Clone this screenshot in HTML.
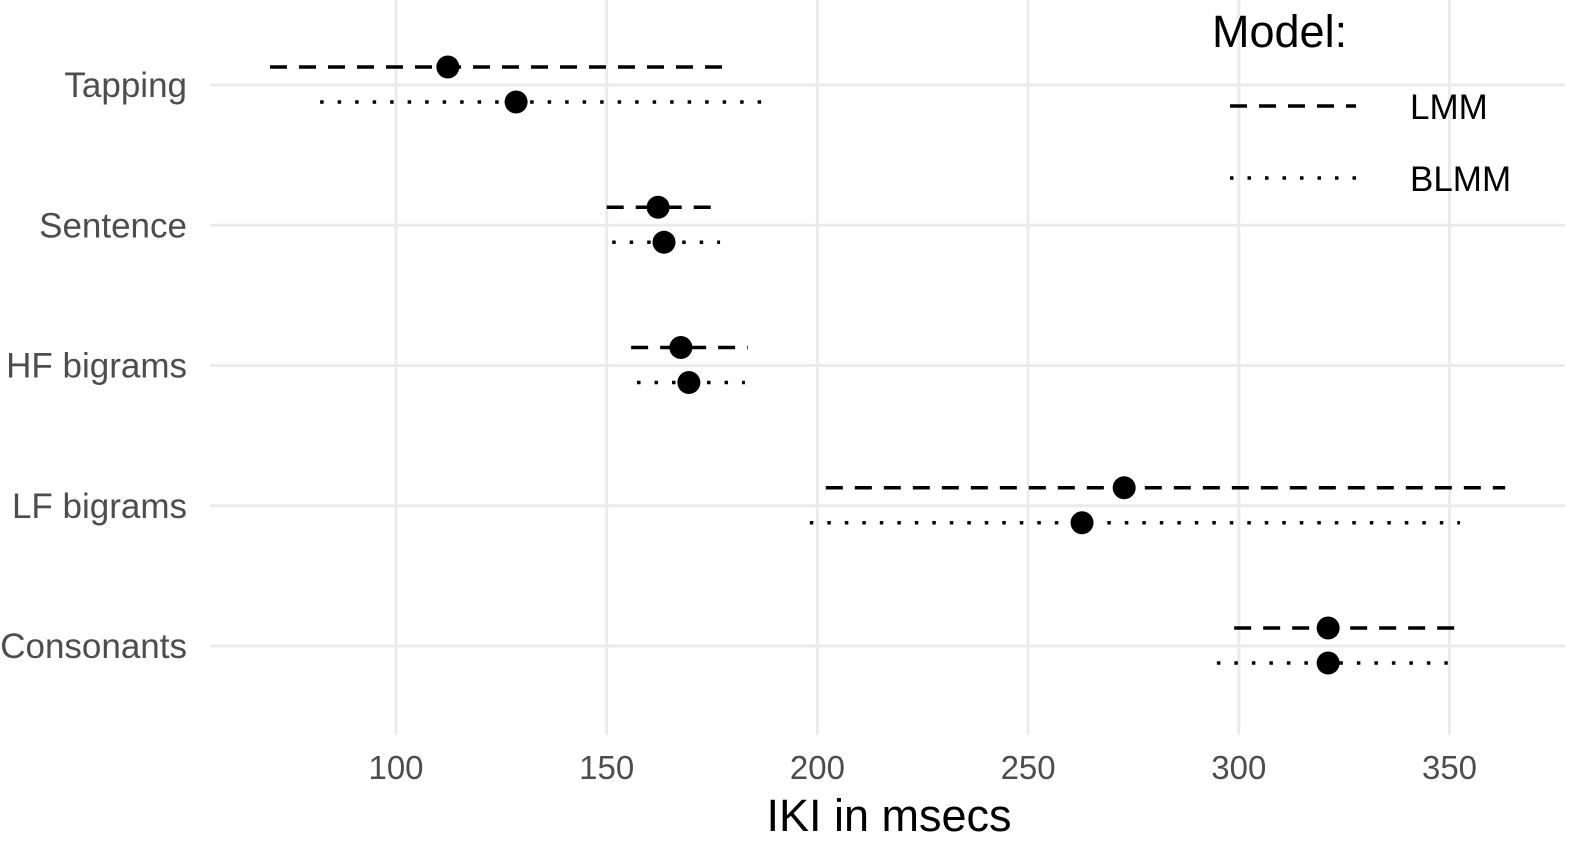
<!DOCTYPE html>
<html><head><meta charset="utf-8"><style>
body{margin:0;background:#fff;}
svg{display:block;font-family:"Liberation Sans",Arial,sans-serif;}
</style></head><body>
<svg id="chart" width="1593" height="845" viewBox="0 0 1593 845" xmlns="http://www.w3.org/2000/svg">
<g id="grid"></g>
<g id="marks"></g>
<g id="ylabels"></g>
<g id="xlabels"></g>
<text x="889" y="831" font-size="45" text-anchor="middle" fill="#000">IKI in msecs</text>
<g>
<text x="1212" y="47" font-size="45" fill="#000">Model:</text>
<line x1="1230" y1="106" x2="1356" y2="106" stroke="#000" stroke-width="3.5" stroke-dasharray="17,12"/>
<text x="1410" y="119" font-size="35" fill="#000">LMM</text>
<line x1="1230" y1="178" x2="1356" y2="178" stroke="#000" stroke-width="3.5" stroke-dasharray="3.5,14"/>
<text x="1410" y="191" font-size="35" fill="#000">BLMM</text>
</g>
</svg>
<script>
const categories = ["Tapping","Sentence","HF bigrams","LF bigrams","Consonants"];
const xTicks = [100,150,200,250,300,350];
const lmmEst = [112.3,162.2,167.6,272.8,321.2];
const lmmLo = [70.1,150,155.8,202,298.9];
const lmmHi = [178.5,177.4,183.5,363.2,353];
const blmmEst = [128.5,163.6,169.5,262.8,321.2];
const blmmLo = [82,151.3,157.2,198.2,294.8];
const blmmHi = [186.9,176.9,182.8,352.5,349.6];

const NS="http://www.w3.org/2000/svg";
function x(v){return 396+(v-100)*4.214;}
function y(i){return 85+i*140.25;}
function mk(tag,attrs,parent){const e=document.createElementNS(NS,tag);for(const k in attrs)e.setAttribute(k,attrs[k]);parent.appendChild(e);return e;}
const grid=document.getElementById('grid'),marks=document.getElementById('marks'),yl=document.getElementById('ylabels'),xl=document.getElementById('xlabels');
xTicks.forEach(t=>{
  const l=mk('line',{x1:x(t),x2:x(t),y1:0,y2:735,stroke:'#ebebeb','stroke-width':3},grid);
  
  
  const tx=mk('text',{x:x(t),y:779,'font-size':33,'text-anchor':'middle',fill:'#4d4d4d'},xl);
  tx.textContent=t;
  
  
});
categories.forEach((c,i)=>{
  const l=mk('line',{x1:210,x2:1565,y1:y(i),y2:y(i),stroke:'#ebebeb','stroke-width':3},grid);
  
  
  const tx=mk('text',{x:187,y:y(i)+12,'font-size':35,'text-anchor':'end',fill:'#4d4d4d'},yl);
  tx.textContent=c;
  
  
  const s=[[lmmEst,lmmLo,lmmHi,-18,'17,12','lmm'],[blmmEst,blmmLo,blmmHi,17,'3.5,14','blmm']];
  s.forEach(([e,lo,hi,off,da,nm])=>{
    const yy=y(i)+off;
    const ln=mk('line',{x1:x(lo[i]),x2:x(hi[i]),y1:yy,y2:yy,stroke:'#000','stroke-width':3.5,'stroke-dasharray':da},marks);
    
    
    const p=mk('circle',{cx:x(e[i]),cy:yy,r:11.5,fill:'#000'},marks);
    
    
  });
});
</script>
</body></html>
